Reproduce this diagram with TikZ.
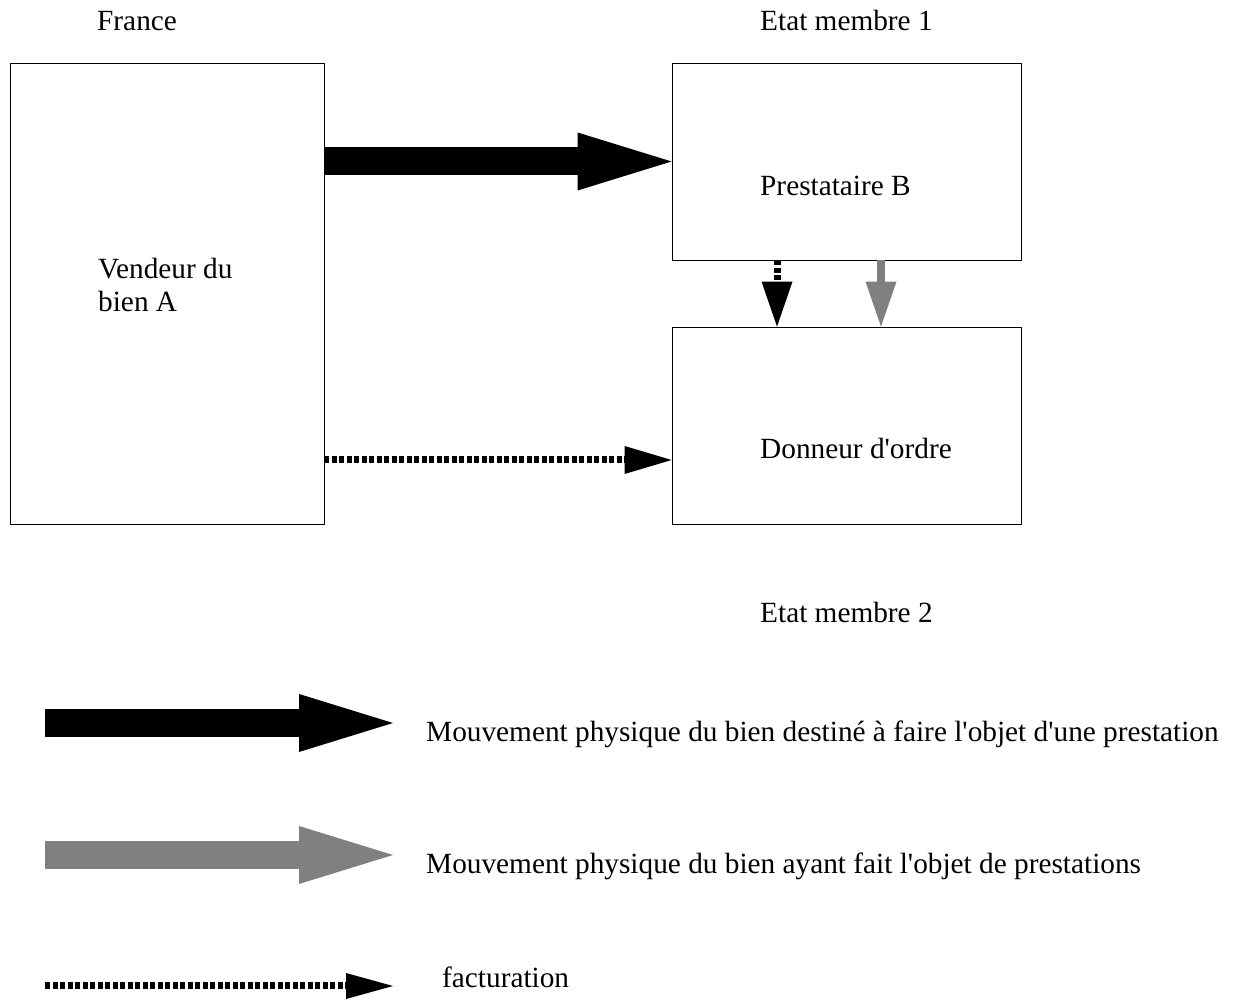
\documentclass[tikz,border=0pt]{standalone}
\usepackage{fontspec}
\setmainfont{Liberation Serif}
\usetikzlibrary{arrows.meta}
\begin{document}
\begin{tikzpicture}
[x=1pt,y=1pt,
box/.style={draw,thick,black,inner sep=0pt,minimum width=349pt,minimum height=197pt},
label/.style={inner sep=0pt,anchor=base west,font=\fontsize{29.3}{34}\selectfont},
move_in/.style={line width=28pt,black,-{Triangle[length=94pt,width=58pt,line width=0pt]}},
move_out/.style={line width=8pt,gray,-{Triangle[length=45pt,width=31pt,line width=0pt]}},
billing/.style={line width=7pt,black,dash pattern=on 5pt off 2.5pt,-{Triangle[length=47pt,width=28pt,line width=0pt]}}]

\useasboundingbox (0,0) rectangle (1240,1000);

%draw the boxes
\node[box,minimum width=314pt,minimum height=461pt] (vendeur) at (167,706.5) {};
\node[box] (prestataire) at (846.5,838.5) {};
\node[box] (donneur) at (846.5,574.5) {};

%draw the texts
\node[label] (france) at (97,969) {France};
\node[label] (etat1) at (760,969) {Etat membre 1};
\node[label] (etat2) at (760,377) {Etat membre 2};
\node[label] (vendeur_l1) at (98,721) {Vendeur du};
\node[label] (vendeur_l2) at (98,688) {bien A};
\node[label] (prestataire_l) at (760,804) {Prestataire B};
\node[label] (donneur_l) at (760,541) {Donneur d\textquotesingle ordre};

%draw the arrows between the boxes
\draw[move_in] (vendeur.east |- prestataire.west) -- (prestataire.west);
\draw[billing] (vendeur.east |- donneur.west) ++(0,-34.5) coordinate (bill_start) -- ([yshift=-34.5pt]donneur.west);
\draw[billing,-{Triangle[length=45pt,width=31pt,line width=0pt]}] ([xshift=-69.5pt]prestataire.south) -- ([xshift=-69.5pt]donneur.north);
\draw[move_out] ([xshift=34.5pt]prestataire.south) -- ([xshift=34.5pt]donneur.north);

%draw the legend
\coordinate (leg_a) at (45,277);
\coordinate (leg_b) at (45,145);
\coordinate (leg_c) at (45,14);
\node[label] (leg_a_text) at (426,258) {Mouvement physique du bien destiné à faire l\textquotesingle objet d\textquotesingle une prestation};
\node[label] (leg_b_text) at (426,126) {Mouvement physique du bien ayant fait l\textquotesingle objet de prestations};
\node[label] (leg_c_text) at (442,12) {facturation};
\draw[move_in] (leg_a) -- ++(348,0);
\draw[move_in,gray] (leg_b) -- ++(348,0);
\draw[billing,-{Triangle[length=47pt,width=26pt,line width=0pt]}] (leg_c) -- ++(348,0);

\end{tikzpicture}
\end{document}
